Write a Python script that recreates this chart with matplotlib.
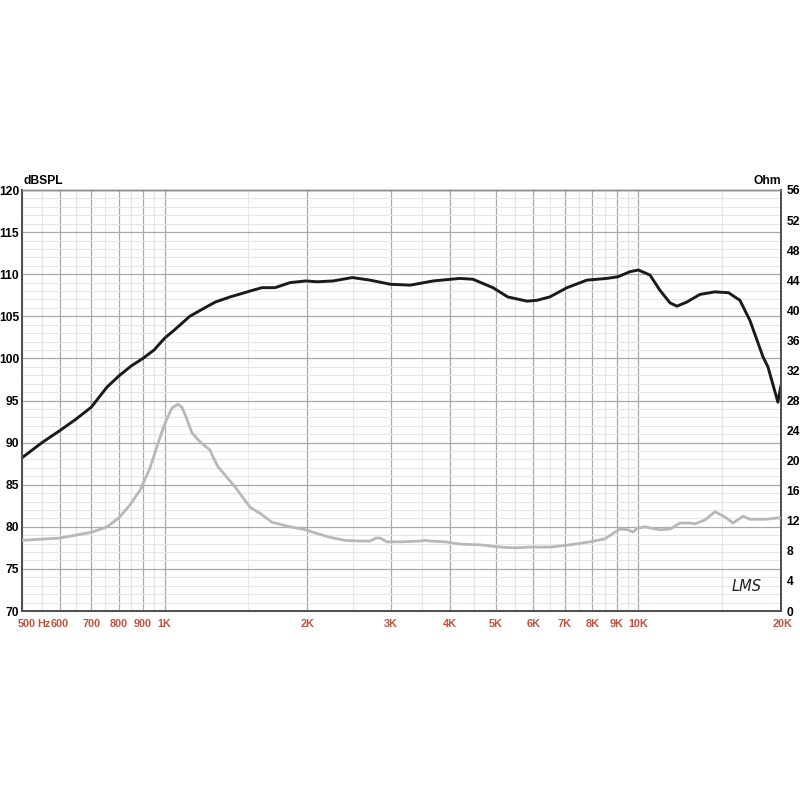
"""Tweeter frequency response (SPL) and impedance, LMS-style chart."""

import matplotlib
matplotlib.use("Agg")
import matplotlib.pyplot as plt
from matplotlib.ticker import FixedLocator, NullFormatter
from matplotlib.transforms import ScaledTranslation

# SPL response (dB) vs frequency (Hz)
SPL_FREQ = [500, 551, 600, 647, 700, 756, 800, 850, 900, 950, 1000, 1050,
            1130, 1215, 1280, 1375, 1515, 1605, 1710, 1840, 1985, 2100, 2270,
            2490, 2710, 3000, 3300, 3690, 4200, 4475, 4930, 5300, 5820, 6110,
            6500, 7070, 7790, 8580, 9060, 9600, 10000, 10580, 11100, 11660,
            12060, 12660, 13490, 14500, 15500, 16380, 17200, 18320,
            18770, 19700, 20000]
SPL_DB = [88.2, 90.0, 91.4, 92.7, 94.2, 96.6, 97.9, 99.1, 100.0, 101.0, 102.4,
          103.4, 105.0, 106.0, 106.7, 107.3, 108.0, 108.4, 108.4, 109.0, 109.2,
          109.1, 109.2, 109.6, 109.3, 108.8, 108.7, 109.2, 109.5, 109.4, 108.4,
          107.3, 106.8, 106.9, 107.3, 108.4, 109.3, 109.5, 109.7, 110.3, 110.5,
          109.9, 108.1, 106.6, 106.2, 106.7, 107.6, 107.9, 107.8, 106.9,
          104.5, 100.2, 99.0, 94.8, 96.8]

# Impedance (Ohm) vs frequency (Hz)
IMP_FREQ = [500, 601, 703, 756, 801, 845, 888, 931, 978, 1002, 1036, 1067,
            1088, 1110, 1142, 1188, 1247, 1265, 1296, 1408, 1515, 1590, 1686,
            1840, 1985, 2075, 2234, 2403, 2585, 2714, 2795, 2849, 2947, 3140,
            3460, 3544, 3632, 3905, 4202, 4630, 5103, 5490, 5906, 6507, 7170,
            7903, 8502, 8925, 9143, 9508, 9743, 9934, 10325, 11110, 11660,
            12240, 12850, 13170, 13820, 14510, 15230, 15840, 16620, 17200,
            18500, 19900]
IMP_OHM = [9.4, 9.7, 10.5, 11.2, 12.4, 14.1, 16.1, 19.0, 23.1, 25.0, 27.0,
           27.5, 27.1, 25.8, 23.7, 22.5, 21.4, 20.5, 19.2, 16.5, 13.8, 13.0,
           11.8, 11.2, 10.8, 10.4, 9.8, 9.4, 9.3, 9.3, 9.7, 9.7, 9.2, 9.2, 9.3,
           9.4, 9.3, 9.2, 8.9, 8.8, 8.5, 8.4, 8.5, 8.5, 8.8, 9.2, 9.6, 10.5,
           10.9, 10.8, 10.5, 11.0, 11.2, 10.8, 10.9, 11.7, 11.7, 11.6, 12.1,
           13.2, 12.5, 11.7, 12.6, 12.2, 12.2, 12.4]

X_MAJOR = [500, 600, 700, 800, 900, 1000, 2000, 3000, 4000, 5000, 6000,
           7000, 8000, 9000, 10000, 20000]
X_LABELS = ["500", "600", "700", "800", "900", "1K", "2K", "3K", "4K", "5K",
            "6K", "7K", "8K", "9K", "10K", "20K"]
X_MINOR = [550, 650, 750, 850, 950, 1500, 2500, 3500, 4500, 5500, 6500,
           7500, 8500, 9500, 15000]

FONT = "Liberation Sans"
RED = "#c0533f"


def main() -> None:
    plt.rcParams["font.family"] = [FONT, "DejaVu Sans"]
    fig = plt.figure(figsize=(8, 8), dpi=100)
    ax = fig.add_axes([22 / 800, 1 - 611 / 800, 759 / 800, 421 / 800])

    ax.set_xscale("log")
    ax.set_xlim(500, 20000)
    ax.set_ylim(70, 120)

    ax.xaxis.set_major_locator(FixedLocator(X_MAJOR))
    ax.xaxis.set_minor_locator(FixedLocator(X_MINOR))
    ax.xaxis.set_minor_formatter(NullFormatter())
    ax.set_xticklabels(X_LABELS)
    ax.set_yticks(range(70, 121, 5))
    ax.set_yticks(range(70, 121, 1), minor=True)

    ax.grid(which="major", color="#a9a9a9", lw=0.9)
    ax.grid(which="minor", color="#e6e6e6", lw=0.8)
    ax.set_axisbelow(True)

    ax.tick_params(which="both", length=0)
    ax.tick_params(axis="x", pad=6, labelsize=7.8, labelcolor=RED)
    ax.tick_params(axis="y", pad=2, labelsize=8.7)
    for lab in ax.get_xticklabels() + ax.get_yticklabels():
        lab.set_fontweight("bold")
    # first label sits a little right of the axis edge, last a little left-shifted
    xl = ax.get_xticklabels()
    xl[0].set_transform(xl[0].get_transform()
                        + ScaledTranslation(5 / 100, 0, fig.dpi_scale_trans))
    xl[-1].set_transform(xl[-1].get_transform()
                         + ScaledTranslation(2 / 100, 0, fig.dpi_scale_trans))

    ax.plot(SPL_FREQ, SPL_DB, color="#1a1a1a", lw=2.1, zorder=4,
            solid_joinstyle="round", solid_capstyle="round")

    ax2 = ax.twinx()
    ax2.set_ylim(0, 56)
    ax2.set_yticks(range(0, 57, 4))
    ax2.tick_params(length=0, pad=4, labelsize=8.7)
    for lab in ax2.get_yticklabels():
        lab.set_fontweight("bold")
    ax2.plot(IMP_FREQ, IMP_OHM, color="#b8b8b8", lw=2.0, zorder=3,
             solid_joinstyle="round", solid_capstyle="round")

    for a in (ax, ax2):
        for side in ("left", "bottom", "right"):
            a.spines[side].set_color("#505050")
            a.spines[side].set_linewidth(1.4)
        a.spines["top"].set_color("#8a8a8a")
        a.spines["top"].set_linewidth(1.0)

    ax.text(0.0015, 1.008, "dBSPL", transform=ax.transAxes, ha="left",
            va="bottom", fontsize=8.7, fontweight="bold")
    ax.text(1.0, 1.008, "Ohm", transform=ax.transAxes, ha="right",
            va="bottom", fontsize=8.7, fontweight="bold")
    ax.text((50 - 22) / 759, -0.0195, "Hz", transform=ax.transAxes,
            ha="right", va="top", fontsize=7.8, fontweight="bold", color=RED)
    ax.text(0.975, 0.04, "LMS", transform=ax.transAxes, ha="right",
            va="bottom", fontsize=10.5, style="italic", family="DejaVu Sans",
            fontweight="light", color="#222222")

    fig.savefig("out.png", dpi=100)


if __name__ == "__main__":
    main()
